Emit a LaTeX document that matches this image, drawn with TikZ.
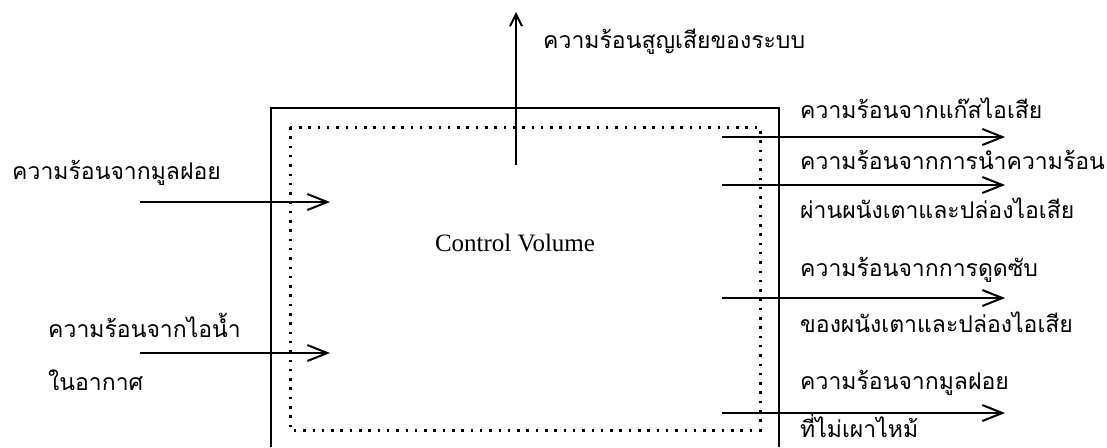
\documentclass[tikz,border=0pt]{standalone}
\usepackage{fontspec}
\setmainfont{Liberation Serif}
\newfontfamily\thaifont[Script=Thai]{Loma}
\usetikzlibrary{arrows.meta}
\tikzset{
  flow/.style={line width=2.4pt,-{Straight Barb[length=20pt,width=16pt,line width=2pt]}},
  thlabel/.style={font=\thaifont\fontsize{23}{27}\selectfont,anchor=west,inner sep=0pt},
  boxline/.style={line width=2.4pt},
  cvline/.style={line width=3pt,dash pattern=on 2.5pt off 6.8pt}
}
\begin{document}
\begin{tikzpicture}[x=1pt,y=-1pt]
\useasboundingbox (0,0) rectangle (1107,447);
% outer system boundary
\coordinate (oTL) at (271,108);
\coordinate (oTR) at (779,108);
\coordinate (oBL) at (271,447);
\coordinate (oBR) at (779,447);
\draw[boxline] (oBL) -- (oTL) -- (oTR) -- (oBR);
% control volume (dotted)
\coordinate (cTL) at (290,127);
\coordinate (cBR) at (760,430);
\draw[cvline] (cTL) rectangle (cBR);
\node (cv) at (515,243) {\fontsize{25}{29}\selectfont Control Volume};
% up arrow
\coordinate (upS) at (516,165);
\coordinate (upE) at (516,12);
\draw[line width=2.4pt,-{Straight Barb[length=12pt,width=12pt,line width=2pt]}] (upS) -- (upE);
\node[thlabel] (lup) at (543,42) {ความร้อนสูญเสียของระบบ};
% left inputs
\coordinate (l1s) at (140,202); \coordinate (l1e) at (330,202);
\coordinate (l2s) at (140,353); \coordinate (l2e) at (330,353);
\draw[flow] (l1s) -- (l1e);
\draw[flow] (l2s) -- (l2e);
\node[thlabel] (ll1) at (12,173) {ความร้อนจากมูลฝอย};
\node[thlabel] (ll2) at (48,325) {ความร้อนจากไอน้ำ};
\node[thlabel] (ll3) at (48,380) {ในอากาศ};
% right outputs
\coordinate (r1s) at (722,137); \coordinate (r1e) at (1005,137);
\coordinate (r2s) at (722,185); \coordinate (r2e) at (1005,185);
\coordinate (r3s) at (722,298); \coordinate (r3e) at (1005,298);
\coordinate (r4s) at (722,413); \coordinate (r4e) at (1005,413);
\draw[flow] (r1s) -- (r1e);
\draw[flow] (r2s) -- (r2e);
\draw[flow] (r3s) -- (r3e);
\draw[flow] (r4s) -- (r4e);
\node[thlabel] (rl1) at (800,108) {ความร้อนจากแก๊สไอเสีย};
\node[thlabel] (rl2) at (800,160) {ความร้อนจากการนำความร้อน};
\node[thlabel] (rl3) at (800,208) {ผ่านผนังเตาและปล่องไอเสีย};
\node[thlabel] (rl4) at (800,270) {ความร้อนจากการดูดซับ};
\node[thlabel] (rl5) at (800,322) {ของผนังเตาและปล่องไอเสีย};
\node[thlabel] (rl6) at (800,383) {ความร้อนจากมูลฝอย};
\node[thlabel] (rl7) at (800,426) {ที่ไม่เผาไหม้};
\end{tikzpicture}
\end{document}
